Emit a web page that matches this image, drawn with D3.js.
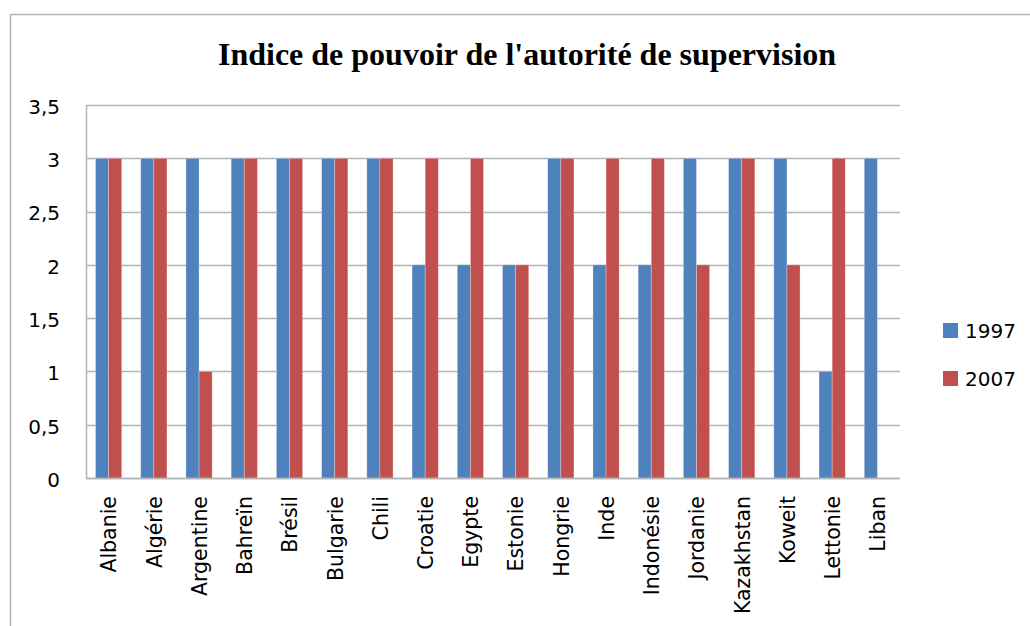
<!DOCTYPE html>
<html>
<head>
<meta charset="utf-8">
<script src="https://cdn.jsdelivr.net/npm/d3@7"></script>
<style>
  body { margin: 0; background: #fff; }
  .axis path, .axis line { stroke: none; }
  .axis text { font-family: "DejaVu Sans", sans-serif; fill: #000; }
</style>
</head>
<body>
<svg id="chart"></svg>
<script>
let countries = ["Albanie", "Algérie", "Argentine", "Bahreïn", "Brésil", "Bulgarie", "Chili",
  "Croatie", "Egypte", "Estonie", "Hongrie", "Inde", "Indonésie", "Jordanie", "Kazakhstan",
  "Koweit", "Lettonie", "Liban"];
let series = ["1997", "2007"];
let values1997 = [3, 3, 3, 3, 3, 3, 3, 2, 2, 2, 3, 2, 2, 3, 3, 3, 1, 3];
let values2007 = [3, 3, 1, 3, 3, 3, 3, 3, 3, 2, 3, 3, 3, 2, 3, 2, 3, 0];
let yTicks = [0, 0.5, 1, 1.5, 2, 2.5, 3, 3.5];
let colors = ["#4f81bd", "#c0504d"];

let config = {
  'svg': {width: 1030, height: 626},
  'plot': {x: 86, y: 105, width: 814, height: 373},
  'legend': {x: 943, y: 323}
};

let svg = d3.select("svg#chart")
  .attr('width', config.svg.width)
  .attr('height', config.svg.height);

// outer chart frame (runs off the right and bottom of the picture)
svg.append('rect')
  .attr('x', 10.5).attr('y', 14.5)
  .attr('width', 1040).attr('height', 700)
  .attr('fill', 'none')
  .attr('stroke', '#b3b3b3')
  .attr('stroke-width', 1.5);

svg.append('text')
  .text("Indice de pouvoir de l'autorité de supervision")
  .attr('x', 527).attr('y', 65)
  .attr('text-anchor', 'middle')
  .attr('font-family', '"Liberation Serif", "Times New Roman", serif')
  .attr('font-weight', 'bold')
  .attr('font-size', '32px');

let plot = svg.append('g')
  .attr('transform', translate(config.plot.x, config.plot.y));

let scale = {};
scale.x = d3.scaleBand().domain(countries).range([0, config.plot.width]).paddingInner(0.42).paddingOuter(0.21);
scale.y = d3.scaleLinear().domain([0, 3.5]).range([config.plot.height, 0]);
scale.series = d3.scaleBand().domain(series).range([0, scale.x.bandwidth()]);

// gridlines
plot.selectAll('line.grid')
  .data(yTicks)
  .enter()
  .append('line')
  .attr('class', 'grid')
  .attr('x1', 0).attr('x2', config.plot.width)
  .attr('y1', d => Math.round(scale.y(d)) + 0.5)
  .attr('y2', d => Math.round(scale.y(d)) + 0.5)
  .attr('stroke', '#b3b3b3')
  .attr('stroke-width', 1.5);

plot.append('line')
  .attr('x1', 0.5).attr('x2', 0.5)
  .attr('y1', 0).attr('y2', config.plot.height)
  .attr('stroke', '#b3b3b3')
  .attr('stroke-width', 1.5);

let rows = countries.map((c, i) => ({country: c, values: [values1997[i], values2007[i]]}));

let groups = plot.selectAll('g.group')
  .data(rows)
  .enter()
  .append('g')
  .attr('class', 'group')
  .attr('transform', d => translate(scale.x(d.country), 0));

groups.selectAll('rect')
  .data(d => d.values.map((v, j) => ({key: series[j], value: v, color: colors[j]})))
  .enter()
  .append('rect')
  .attr('x', d => scale.series(d.key))
  .attr('y', d => scale.y(d.value))
  .attr('width', scale.series.bandwidth())
  .attr('height', d => scale.y(0) - scale.y(d.value))
  .attr('fill', d => d.color)
  .attr('stroke', 'rgba(255,255,255,0.35)')
  .attr('stroke-width', 0.8);

// axes
let axis = {};
axis.y = d3.axisLeft(scale.y)
  .tickValues(yTicks)
  .tickSize(0)
  .tickPadding(26)
  .tickFormat(d => String(d).replace('.', ','));

svg.append('g')
  .attr('class', 'axis')
  .attr('transform', translate(config.plot.x, config.plot.y))
  .call(axis.y)
  .selectAll('text')
  .attr('font-size', '20px')
  .attr('dy', '0.42em');

axis.x = d3.axisBottom(scale.x).tickSize(0).tickPadding(0);

let gx = svg.append('g')
  .attr('class', 'axis')
  .attr('transform', translate(config.plot.x, config.plot.y + config.plot.height))
  .call(axis.x);

gx.selectAll('text')
  .attr('font-size', '20.5px')
  .attr('text-anchor', 'end')
  .attr('transform', 'rotate(-90)')
  .attr('x', -18)
  .attr('y', 0)
  .attr('dy', '0.38em');

// bottom axis line drawn over bars
plot.append('line')
  .attr('x1', 0).attr('x2', config.plot.width)
  .attr('y1', config.plot.height + 0.5).attr('y2', config.plot.height + 0.5)
  .attr('stroke', '#b3b3b3')
  .attr('stroke-width', 1.5);

// legend
let legend = svg.append('g')
  .attr('transform', translate(config.legend.x, config.legend.y));

let items = legend.selectAll('g')
  .data(series)
  .enter()
  .append('g')
  .attr('transform', (d, i) => translate(0, i * 48));

items.append('rect')
  .attr('width', 15).attr('height', 15)
  .attr('fill', (d, i) => colors[i]);

items.append('text')
  .text(d => d)
  .attr('x', 22).attr('y', 14.5)
  .attr('font-family', '"DejaVu Sans", sans-serif')
  .attr('font-size', '20px');

function translate(x, y) {
  return 'translate(' + x + ',' + y + ')';
}
</script>
</body>
</html>
